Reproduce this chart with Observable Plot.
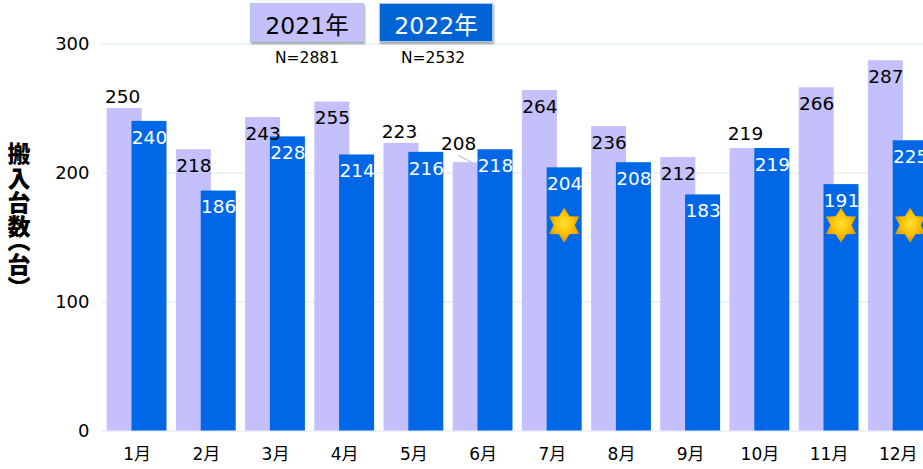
<!DOCTYPE html>
<html lang="ja">
<head>
<meta charset="utf-8">
<script src="https://cdn.jsdelivr.net/npm/d3@7"></script>
<script src="https://cdn.jsdelivr.net/npm/@observablehq/plot@0.6"></script>
<style>
  html, body { margin: 0; padding: 0; background: #fff; overflow: hidden; }
  #stage { position: relative; width: 923px; height: 469px; overflow: hidden;
    font-family: "DejaVu Sans", "Noto Sans CJK JP", sans-serif; color: #000; }
  .key { position: absolute; top: 3px; height: 39px; width: 114px; box-sizing: border-box; display: flex;
    align-items: center; justify-content: center; font-size: 23.5px; padding-top: 2px;
    border: 1px solid #a9c8ee; box-shadow: 1px 2px 2px rgba(0,0,0,.35); }
  .n { position: absolute; top: 49px; width: 114px; text-align: center; font-size: 15.5px; }
  #ytitle { position: absolute; left: 7px; top: 142px; writing-mode: vertical-rl;
    font-family: "Noto Sans CJK JP", sans-serif; font-weight: 900; font-size: 23px; line-height: 24px;
    font-feature-settings: "vpal"; letter-spacing: 1.4px; }
</style>
</head>
<body>
<div id="stage"></div>
<script>
const months = ["1月","2月","3月","4月","5月","6月","7月","8月","9月","10月","11月","12月"];
const values2021 = [250,218,243,255,223,208,264,236,212,219,266,287];
const values2022 = [240,186,228,214,216,218,204,208,183,219,191,225];
const yTicks = [0,100,200,300];
const years = ["2021年","2022年"];
const totals = ["N=2881","N=2532"];
const yTitle = "搬入台数（台）";
const starMonths = ["7月","11月","12月"];
const starLevel = 159.5;
const labelsAbove2021 = ["1月","5月"];
const labelHigh2021 = ["10月"];
const labelLeader2021 = ["6月"];

const light = "#c3c0fb", blue = "#0068e6";
const rows2021 = months.map((m,i)=>({month:m,value:values2021[i]}));
const rows2022 = months.map((m,i)=>({month:m,value:values2022[i]}));
const off = 12.4, inset = 17.1;
const labelFont = 18.5;

const star6 = { draw(ctx, size) {
  const R = Math.sqrt(size), r = R * 0.6;
  for (let i = 0; i < 12; i++) {
    const a = Math.PI * i / 6, q = i % 2 ? r : R;
    const x = q * Math.sin(a), y = -q * Math.cos(a);
    i ? ctx.lineTo(x, y) : ctx.moveTo(x, y);
  }
  ctx.closePath();
}};
const leader = { draw(ctx, l) { ctx.moveTo(0,0); ctx.lineTo(0,-l); } };

const defs = () => {
  const d = d3.create("svg:defs");
  const g = d.append("radialGradient").attr("id","starFill").attr("cx","50%").attr("cy","45%").attr("r","60%");
  g.append("stop").attr("offset","0%").attr("stop-color","#ffe040");
  g.append("stop").attr("offset","45%").attr("stop-color","#ffc400");
  g.append("stop").attr("offset","100%").attr("stop-color","#d98c00");
  return d.node();
};

const label2021 = (test, dx, dy) => Plot.text(rows2021.filter(test), {x:"month", y:"value", text:d=>String(d.value),
  fill:"#000", fontSize:labelFont, dx, dy});

const chart = Plot.plot({
  width: 923, height: 469,
  marginTop: 43, marginBottom: 38, marginLeft: 102, marginRight: 0,
  style: {fontFamily: '"DejaVu Sans", "Noto Sans CJK JP", sans-serif', background: "transparent", overflow: "hidden"},
  x: {domain: months, range: [102, 932.4], padding: 0, round: false, label: null},
  y: {domain: [0,300], range: [430.5, 43.5], label: null},
  marks: [
    defs,
    Plot.ruleY(yTicks, {stroke: "#d9e6f6", strokeWidth: 1}),
    Plot.barY(rows2021, {x:"month", y:"value", fill: light, dx:-off, insetLeft:inset, insetRight:inset,
      style:{filter:"drop-shadow(-1px 1px 1px rgba(0,0,0,.18))"}}),
    Plot.barY(rows2022, {x:"month", y:"value", fill: blue, dx:off, insetLeft:inset, insetRight:inset,
      style:{filter:"drop-shadow(0px 1px 1px rgba(0,0,0,.12))"}}),
    Plot.vector(labelLeader2021, {x:d=>d, y:()=>213.6, length:15, rotate:118, anchor:"start", shape:leader,
      stroke:"#a9c8ee", strokeWidth:1, dx:-24.5}),
    label2021(d=>labelsAbove2021.includes(d.month), -off-2, -11),
    label2021(d=>labelHigh2021.includes(d.month), -off-2, -14),
    label2021(d=>labelLeader2021.includes(d.month), -24.5, -19),
    label2021(d=>![...labelsAbove2021,...labelHigh2021,...labelLeader2021].includes(d.month), -off, 16.5),
    Plot.text(rows2022, {x:"month", y:"value", text:d=>String(d.value), fill:"#fff", fontSize:labelFont, dx:off, dy:16.5}),
    Plot.dot(starMonths, {x:d=>d, y:()=>starLevel, symbol:star6, r:9.9, fill:"url(#starFill)", stroke:"none", dx:off-0.5,
      style:{filter:"drop-shadow(0px 1.5px 1px rgba(0,0,0,.45))"}}),
    Plot.axisY({ticks:yTicks, tickSize:0, tickPadding:13, fontSize:18, fill:"#000", label:null}),
    Plot.axisX({tickSize:0, tickPadding:16, fontSize:17, fill:"#000", label:null})
  ]
});

const stage = document.getElementById("stage");
stage.appendChild(chart);
const keyStyles = [{left:250,nLeft:250,bg:light,fg:"#000"},{left:379,nLeft:376,bg:"#0064d4",fg:"#fff"}];
years.forEach((y,i)=>{
  const s = keyStyles[i];
  const k = document.createElement("div");
  k.className = "key"; k.textContent = y;
  k.style.left = s.left+"px"; k.style.background = s.bg; k.style.color = s.fg;
  stage.appendChild(k);
  const n = document.createElement("div");
  n.className = "n"; n.textContent = totals[i]; n.style.left = s.nLeft+"px";
  stage.appendChild(n);
});
const t = document.createElement("div");
t.id = "ytitle"; t.textContent = yTitle;
stage.appendChild(t);
</script>
</body>
</html>
